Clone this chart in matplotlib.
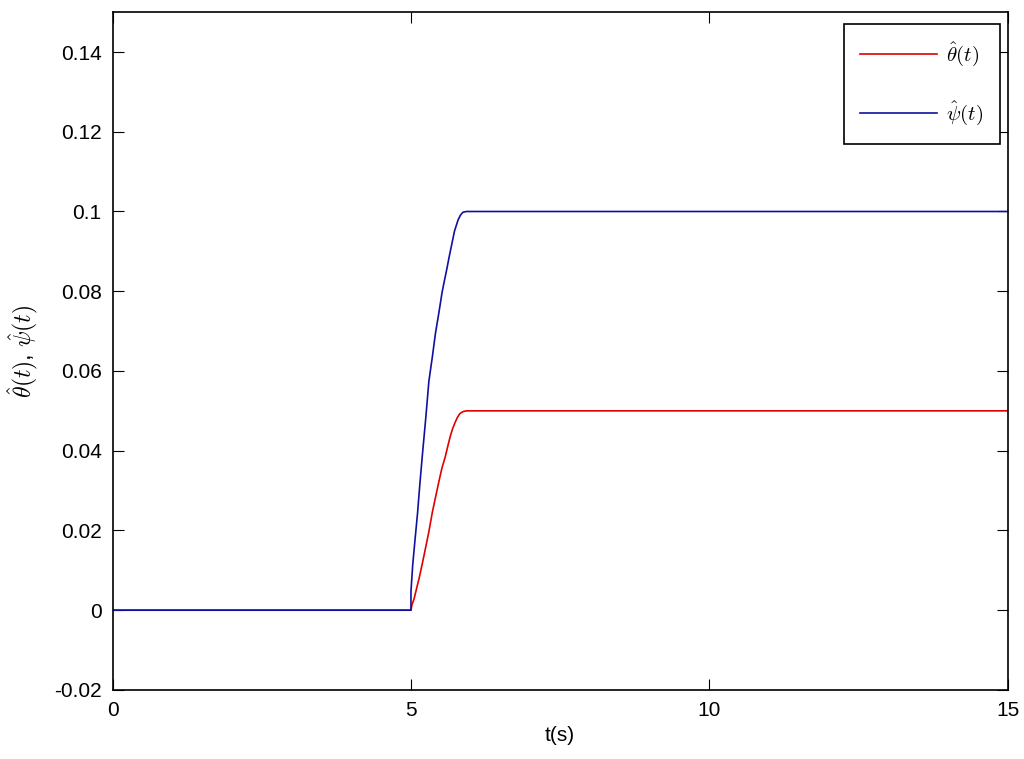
import matplotlib
matplotlib.use("Agg")
import matplotlib.pyplot as plt

# values
t_theta = [0, 5.0, 5.016, 5.055, 5.10, 5.14, 5.20, 5.25, 5.30, 5.36, 5.42, 5.47, 5.52,
           5.575, 5.62, 5.66, 5.70, 5.74, 5.78, 5.82, 5.87, 5.93, 15]
theta = [0, 0, 0.0013, 0.003, 0.0058, 0.0082, 0.0124, 0.016, 0.0197, 0.0247, 0.0289, 0.0324,
         0.0357, 0.0385, 0.0413, 0.0437, 0.0456, 0.0471, 0.0484, 0.0493, 0.0498, 0.05, 0.05]

t_psi = [0, 5.0, 5.0, 5.03, 5.07, 5.11, 5.15, 5.19, 5.25, 5.30, 5.36, 5.41, 5.47, 5.52,
         5.56, 5.60, 5.64, 5.68, 5.73, 5.79, 5.83, 5.87, 5.93, 15]
psi = [0, 0, 0.0047, 0.0115, 0.018, 0.0243, 0.0318, 0.0387, 0.0485, 0.0574, 0.0637, 0.0694,
       0.0748, 0.0796, 0.0826, 0.0855, 0.0886, 0.0915, 0.0951, 0.0979, 0.0991, 0.0998, 0.1, 0.1]

xticks = [0, 5, 10, 15]
yticks = [-0.02, 0, 0.02, 0.04, 0.06, 0.08, 0.1, 0.12, 0.14]
ytick_labels = ["-0.02", "0", "0.02", "0.04", "0.06", "0.08", "0.1", "0.12", "0.14"]

plt.rcParams["font.family"] = ["Liberation Sans", "DejaVu Sans"]
plt.rcParams["mathtext.fontset"] = "cm"

fig = plt.figure(figsize=(10.24, 7.59), dpi=100)
ax = fig.add_axes([0.110, 0.091, 0.874, 0.893])

ax.plot(t_theta, theta, color="#e00000", lw=1.2, label=r"$\hat{\theta}(t)$")
ax.plot(t_psi, psi, color="#1010a0", lw=1.2, label=r"$\hat{\psi}(t)$")

ax.set_xlim(0, 15)
ax.set_ylim(-0.02, 0.15)
ax.set_xticks(xticks)
ax.set_yticks(yticks)
ax.set_yticklabels(ytick_labels)
ax.tick_params(direction="in", top=True, right=True, length=8, labelsize=15, pad=8)
for s in ax.spines.values():
    s.set_linewidth(1.2)

ax.set_xlabel("t(s)", fontsize=15, labelpad=4)
ax.set_ylabel(r"$\hat{\theta}(t)$, $\hat{\psi}(t)$", fontsize=17, labelpad=10)

leg = ax.legend(loc="upper right", bbox_to_anchor=(0.991, 0.983), borderaxespad=0,
                fontsize=15, handlelength=3.7, labelspacing=1.5, fancybox=False,
                framealpha=1, edgecolor="black", borderpad=0.8, handletextpad=0.4)
leg.get_frame().set_linewidth(1.2)

fig.savefig("out.png", dpi=100)
